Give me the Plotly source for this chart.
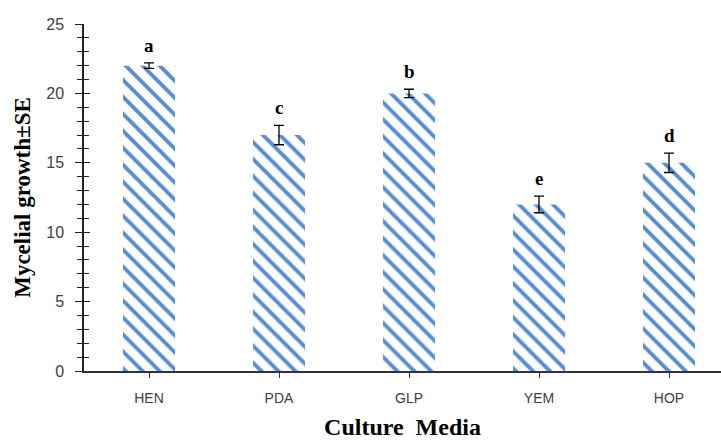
import plotly.graph_objects as go

# Mycelial growth on different culture media
media = ["HEN", "PDA", "GLP", "YEM", "HOP"]
growth = [22.0, 17.0, 20.0, 12.0, 15.0]
se = [0.2, 0.7, 0.3, 0.6, 0.7]
letters = ["a", "c", "b", "e", "d"]

serif = "Liberation Serif, Times New Roman, serif"
sans = "Liberation Sans, Arial, sans-serif"
stripe = "#568DD8"

fig = go.Figure()
fig.add_trace(go.Bar(
    x=media, y=growth,
    marker=dict(
        color="white",
        line=dict(width=0),
        pattern=dict(shape="\\", fgcolor=stripe, bgcolor="white",
                     size=12, solidity=0.32, fillmode="replace"),
    ),
    error_y=dict(type="data", array=se, color="black", thickness=1.3, width=5),
    showlegend=False,
))

# significance letters above each error bar
for m, g, s, t in zip(media, growth, se, letters):
    fig.add_annotation(
        x=m, y=g + s, text=f"<b>{t}</b>", showarrow=False,
        yanchor="bottom", yshift=5,
        font=dict(family=serif, size=19, color="black"),
    )

# invisible trace for the inside half of the crossing y ticks
fig.add_trace(go.Scatter(x=[media[0]], y=[0], yaxis="y2", mode="markers",
                         marker=dict(opacity=0), showlegend=False,
                         hoverinfo="skip"))

fig.update_layout(
    width=721, height=440,
    margin=dict(l=84, r=0, t=24, b=69),
    paper_bgcolor="white", plot_bgcolor="white",
    bargap=0.6,
    xaxis=dict(
        range=[-0.5, 4.4], showline=True, linecolor="#333333", linewidth=1.5,
        ticks="outside", ticklen=5, tickcolor="#333333", tickwidth=1.3,
        ticklabelstandoff=8,
        tickfont=dict(family=sans, size=14, color="#404040"),
        showgrid=False, zeroline=False,
        title=dict(text="<b>Culture  Media</b>", standoff=14,
                   font=dict(family=serif, size=24, color="black")),
    ),
    yaxis=dict(
        range=[0, 25], dtick=5, showline=True, linecolor="#222222",
        linewidth=1.5, ticks="outside", ticklen=7, tickcolor="#222222",
        tickwidth=1.3, showgrid=False, zeroline=False,
        ticklabelstandoff=8,
        minor=dict(dtick=1, ticks="outside", ticklen=5, tickcolor="#222222",
                   tickwidth=1.3, showgrid=False),
        tickfont=dict(family=sans, size=16, color="#404040"),
        title=dict(text="<b>Mycelial growth±SE</b>", standoff=9,
                   font=dict(family=serif, size=23, color="black")),
    ),
    yaxis2=dict(
        overlaying="y", range=[0, 25], dtick=5, showline=False,
        ticks="inside", ticklen=6, tickcolor="#222222", tickwidth=1.3,
        minor=dict(dtick=1, ticks="inside", ticklen=5, tickcolor="#222222",
                   tickwidth=1.3, showgrid=False),
        showticklabels=False, showgrid=False, zeroline=False,
    ),
)

fig.write_html("out.html")
